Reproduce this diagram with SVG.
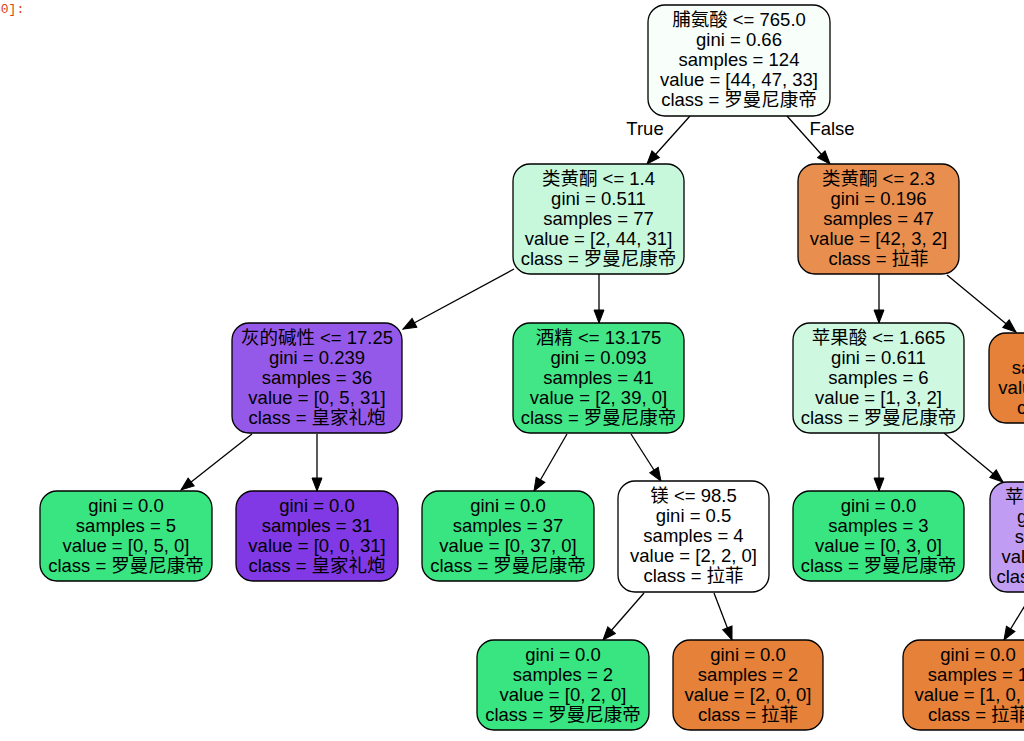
<svg xmlns="http://www.w3.org/2000/svg" width="1024" height="741" viewBox="0 0 1024 741">
<style>
.n rect{stroke:#000;stroke-width:1.3}
.n text,.lbl{font-family:"Liberation Sans","Noto Sans CJK SC",sans-serif;font-size:18.5px;fill:#000;text-anchor:middle}
.e line{stroke:#000;stroke-width:1.3;marker-end:url(#ah)}
.prompt{font-family:"Liberation Mono","DejaVu Sans Mono",monospace;font-size:13px;fill:#d84315}
</style>
<defs>
<marker id="ah" markerUnits="userSpaceOnUse" markerWidth="14" markerHeight="12" refX="13" refY="5" orient="auto" viewBox="0 0 14 10" overflow="visible">
<path d="M0,0 L13,5 L0,10 z" fill="#000" stroke="#000" stroke-width="1"/>
</marker>
</defs>
<rect width="1024" height="741" fill="#fff"/>
<text class="prompt" x="-7" y="13">30]:</text>
<g id="connectors" class="e">
<line x1="690" y1="116" x2="647" y2="164"/>
<line x1="787" y1="116" x2="830" y2="164"/>
<line x1="514" y1="269" x2="403" y2="329"/>
<line x1="599" y1="274" x2="599" y2="323"/>
<line x1="879" y1="274" x2="879" y2="323"/>
<line x1="947" y1="275" x2="1016" y2="332"/>
<line x1="252" y1="434" x2="181" y2="490"/>
<line x1="317" y1="434" x2="317" y2="491"/>
<line x1="567" y1="434" x2="534" y2="491"/>
<line x1="631" y1="434" x2="661" y2="481"/>
<line x1="879" y1="434" x2="879" y2="491"/>
<line x1="944" y1="433" x2="1003" y2="482"/>
<line x1="644" y1="593" x2="603" y2="640"/>
<line x1="714" y1="593" x2="732" y2="640"/>
<line x1="1033" y1="592" x2="1004" y2="640"/>
<text class="lbl" x="645" y="135">True</text>
<text class="lbl" x="832" y="135">False</text>
</g>
<g id="node0" class="n">
<rect x="648" y="5" width="182" height="111" rx="17" fill="#f8fefa"/>
<text x="739" y="26">脯氨酸 &lt;= 765.0</text>
<text x="739" y="46">gini = 0.66</text>
<text x="739" y="66">samples = 124</text>
<text x="739" y="86">value = [44, 47, 33]</text>
<text x="739" y="106">class = 罗曼尼康帝</text>
</g>
<g id="node1" class="n">
<rect x="513" y="164" width="171" height="110" rx="17" fill="#c7f8db"/>
<text x="598.5" y="185">类黄酮 &lt;= 1.4</text>
<text x="598.5" y="205">gini = 0.511</text>
<text x="598.5" y="225">samples = 77</text>
<text x="598.5" y="245">value = [2, 44, 31]</text>
<text x="598.5" y="265">class = 罗曼尼康帝</text>
</g>
<g id="node2" class="n">
<rect x="798" y="164" width="161" height="110" rx="17" fill="#e88f4f"/>
<text x="878.5" y="185">类黄酮 &lt;= 2.3</text>
<text x="878.5" y="205">gini = 0.196</text>
<text x="878.5" y="225">samples = 47</text>
<text x="878.5" y="245">value = [42, 3, 2]</text>
<text x="878.5" y="265">class = 拉菲</text>
</g>
<g id="node3" class="n">
<rect x="232" y="323" width="170" height="110" rx="17" fill="#9559e9"/>
<text x="317" y="344">灰的碱性 &lt;= 17.25</text>
<text x="317" y="364">gini = 0.239</text>
<text x="317" y="384">samples = 36</text>
<text x="317" y="404">value = [0, 5, 31]</text>
<text x="317" y="424">class = 皇家礼炮</text>
</g>
<g id="node4" class="n">
<rect x="513" y="323" width="171" height="110" rx="17" fill="#43e687"/>
<text x="598.5" y="344">酒精 &lt;= 13.175</text>
<text x="598.5" y="364">gini = 0.093</text>
<text x="598.5" y="384">samples = 41</text>
<text x="598.5" y="404">value = [2, 39, 0]</text>
<text x="598.5" y="424">class = 罗曼尼康帝</text>
</g>
<g id="node5" class="n">
<rect x="793" y="323" width="171" height="110" rx="17" fill="#cef8e0"/>
<text x="878.5" y="344">苹果酸 &lt;= 1.665</text>
<text x="878.5" y="364">gini = 0.611</text>
<text x="878.5" y="384">samples = 6</text>
<text x="878.5" y="404">value = [1, 3, 2]</text>
<text x="878.5" y="424">class = 罗曼尼康帝</text>
</g>
<g id="node6" class="n">
<rect x="989" y="333" width="156" height="90" rx="17" fill="#e58139"/>
<text x="1067" y="354">gini = 0.0</text>
<text x="1067" y="374">samples = 41</text>
<text x="1067" y="394">value = [41, 0, 0]</text>
<text x="1067" y="414">class = 拉菲</text>
</g>
<g id="node7" class="n">
<rect x="40" y="491" width="172" height="90" rx="17" fill="#39e581"/>
<text x="126" y="512">gini = 0.0</text>
<text x="126" y="532">samples = 5</text>
<text x="126" y="552">value = [0, 5, 0]</text>
<text x="126" y="572">class = 罗曼尼康帝</text>
</g>
<g id="node8" class="n">
<rect x="236" y="491" width="162" height="90" rx="17" fill="#8139e5"/>
<text x="317" y="512">gini = 0.0</text>
<text x="317" y="532">samples = 31</text>
<text x="317" y="552">value = [0, 0, 31]</text>
<text x="317" y="572">class = 皇家礼炮</text>
</g>
<g id="node9" class="n">
<rect x="422" y="491" width="172" height="90" rx="17" fill="#39e581"/>
<text x="508" y="512">gini = 0.0</text>
<text x="508" y="532">samples = 37</text>
<text x="508" y="552">value = [0, 37, 0]</text>
<text x="508" y="572">class = 罗曼尼康帝</text>
</g>
<g id="node10" class="n">
<rect x="618" y="481" width="151" height="111" rx="17" fill="#ffffff"/>
<text x="693.5" y="502">镁 &lt;= 98.5</text>
<text x="693.5" y="522">gini = 0.5</text>
<text x="693.5" y="542">samples = 4</text>
<text x="693.5" y="562">value = [2, 2, 0]</text>
<text x="693.5" y="582">class = 拉菲</text>
</g>
<g id="node11" class="n">
<rect x="793" y="491" width="171" height="90" rx="17" fill="#39e581"/>
<text x="878.5" y="512">gini = 0.0</text>
<text x="878.5" y="532">samples = 3</text>
<text x="878.5" y="552">value = [0, 3, 0]</text>
<text x="878.5" y="572">class = 罗曼尼康帝</text>
</g>
<g id="node12" class="n">
<rect x="990" y="482" width="150" height="110" rx="17" fill="#c09cf2"/>
<text x="1005" y="503" style="text-anchor:start">苹果酸</text>
<text x="1065" y="523">gini = 0.444</text>
<text x="1065" y="543">samples = 3</text>
<text x="1065" y="563">value = [1, 0, 2]</text>
<text x="1065" y="583">class = 皇家礼炮</text>
</g>
<g id="node13" class="n">
<rect x="477" y="640" width="172" height="90" rx="17" fill="#39e581"/>
<text x="563" y="661">gini = 0.0</text>
<text x="563" y="681">samples = 2</text>
<text x="563" y="701">value = [0, 2, 0]</text>
<text x="563" y="721">class = 罗曼尼康帝</text>
</g>
<g id="node14" class="n">
<rect x="673" y="640" width="150" height="90" rx="17" fill="#e58139"/>
<text x="748" y="661">gini = 0.0</text>
<text x="748" y="681">samples = 2</text>
<text x="748" y="701">value = [2, 0, 0]</text>
<text x="748" y="721">class = 拉菲</text>
</g>
<g id="node15" class="n">
<rect x="903" y="640" width="150" height="90" rx="17" fill="#e58139"/>
<text x="978" y="661">gini = 0.0</text>
<text x="978" y="681">samples = 1</text>
<text x="978" y="701">value = [1, 0, 0]</text>
<text x="978" y="721">class = 拉菲</text>
</g>
</svg>
